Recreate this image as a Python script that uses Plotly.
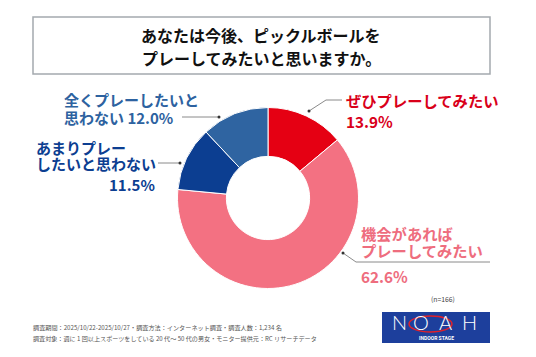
import plotly.graph_objects as go

# page has an 8px body margin, so the figure is drawn offset by 8px
OFF = 8
W, H = 536 - OFF, 357 - OFF

categories = ["ぜひプレーしてみたい", "機会があればプレーしてみたい", "あまりプレーしたいと思わない", "全くプレーしたいと思わない"]
values = [13.9, 62.6, 11.5, 12.0]
colors = ["#e50013", "#f37182", "#0c3e91", "#2f64a1"]

title_lines = ["あなたは今後、ピックルボールを", "プレーしてみたいと思いますか。"]
note_lines = [
    "調査期間：2025/10/22-2025/10/27・調査方法：インターネット調査・調査人数：1,234 名",
    "調査対象：週に 1 回以上スポーツをしている 20 代～ 50 代の男女・モニター提供元：RC リサーチデータ",
]
n_label = "(n=166)"

FONT = "Noto Sans CJK JP"


def px(x):
    return (x - OFF) / W


def py(y):
    return 1 - (y - OFF) / H


cx, cy, R = 268, 198, 90.5

fig = go.Figure()
fig.add_trace(go.Pie(
    labels=categories, values=values, sort=False, direction="clockwise", rotation=0,
    hole=0.46,
    marker=dict(colors=colors, line=dict(color="white", width=1)),
    textinfo="none", hoverinfo="label+percent", showlegend=False,
    domain=dict(x=[px(cx - R), px(cx + R)], y=[py(cy + R), py(cy - R)]),
))

shapes = []
# title box
shapes.append(dict(type="rect", xref="paper", yref="paper",
                   x0=px(33), x1=px(490), y0=py(74), y1=py(17),
                   line=dict(color="#a4a9ae", width=1.5), fillcolor="white", layer="below"))


def line(pts, color="#8a8a8a"):
    for (x0, y0), (x1, y1) in zip(pts[:-1], pts[1:]):
        shapes.append(dict(type="line", xref="paper", yref="paper",
                           x0=px(x0), y0=py(y0), x1=px(x1), y1=py(y1),
                           line=dict(color=color, width=1)))


def dot(x, y, r=1.5):
    shapes.append(dict(type="circle", xref="paper", yref="paper",
                       x0=px(x - r), x1=px(x + r), y0=py(y + r), y1=py(y - r),
                       fillcolor="#333", line=dict(width=0)))


line([(309, 111), (326, 100), (342, 100)])
dot(309, 111)
line([(182, 117), (219, 117)])
dot(219, 117)
line([(158, 163), (180, 163)])
dot(180, 163)
line([(343, 253), (356, 262), (490, 262)])
dot(343, 253)

# logo
shapes.append(dict(type="rect", xref="paper", yref="paper",
                   x0=px(382), x1=px(490), y0=py(343), y1=py(312),
                   fillcolor="#1d3f9c", line=dict(width=0)))
shapes.append(dict(type="circle", xref="paper", yref="paper",
                   x0=px(409), x1=px(452), y0=py(332), y1=py(316),
                   fillcolor="rgba(0,0,0,0)", line=dict(color="#e0202a", width=1.5)))

annotations = []


def txt(x, y, s, size, color, anchor="left", weight=700, family=FONT):
    annotations.append(dict(xref="paper", yref="paper", x=px(x), y=py(y), text=s,
                            showarrow=False, xanchor=anchor, yanchor="middle", borderpad=0,
                            font=dict(family=family, size=size, color=color, weight=weight)))


txt(261, 35, title_lines[0], 16, "#111", "center")
txt(261, 58, title_lines[1], 16, "#111", "center")

red, pink, navy, steel = "#d9001a", "#ee6d7e", "#0c3e91", "#2d62a0"
txt(345, 100, "ぜひプレーしてみたい", 15.3, red)
txt(345, 121, "13.9%", 15.3, red)
txt(360, 233, "機会があれば", 15.3, pink)
txt(360, 250, "プレーしてみたい", 15.3, pink)
txt(360, 276, "62.6%", 15.3, pink)
txt(63, 100, "全くプレーしたいと", 15, steel)
txt(63, 117, "思わない 12.0%", 15, steel)
txt(35, 147, "あまりプレー", 15, navy)
txt(35, 163, "したいと思わない", 15, navy)
txt(156, 184, "11.5%", 15, navy, "right")

txt(430, 299, n_label, 6.8, "#444", weight=400)
txt(32, 327, note_lines[0], 6.15, "#555", weight=400)
txt(32, 338, note_lines[1], 6.1, "#555", weight=400)

for ch, x in zip("NOAH", [399, 421, 445, 469]):
    txt(x, 322, ch, 20, "white", "center", weight=300, family="Lato")
txt(436, 338, "INDOOR STAGE", 5, "white", "center", weight=700, family="Roboto")

fig.update_layout(width=W, height=H, margin=dict(l=0, r=0, t=0, b=0),
                  paper_bgcolor="white", plot_bgcolor="white",
                  shapes=shapes, annotations=annotations)

fig.write_html("out.html")
